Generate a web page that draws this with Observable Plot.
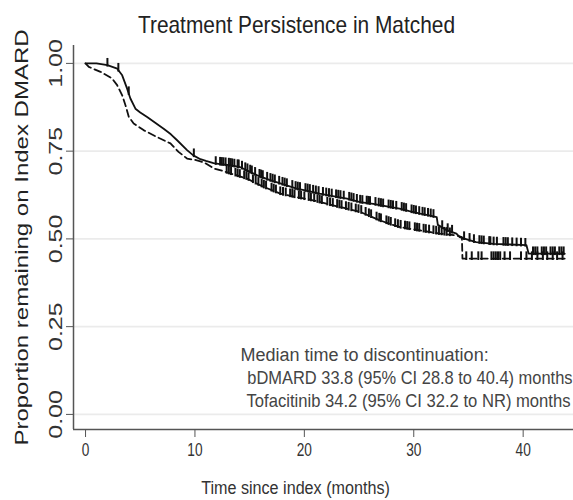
<!DOCTYPE html>
<html>
<head>
<meta charset="utf-8">
<script src="https://cdn.jsdelivr.net/npm/d3@7"></script>
<script src="https://cdn.jsdelivr.net/npm/@observablehq/plot@0.6"></script>
<style>
  html, body { margin: 0; padding: 0; background: #fff; }
  #chart { width: 573px; height: 500px; overflow: hidden; }
</style>
</head>
<body>
<div id="chart"></div>
<script>
// ---- Text ----
const titleText = "Treatment Persistence in Matched";
const xLabel = "Time since index (months)";
const yLabel = "Proportion remaining on Index DMARD";
const noteHead = "Median time to discontinuation:";
const noteLines = [
  "bDMARD 33.8 (95% CI 28.8 to 40.4) months",
  "Tofacitinib 34.2 (95% CI 32.2 to NR) months"
];

// ---- Axes ----
const xTicks = [0, 10, 20, 30, 40];
const yTicks = [0, 0.25, 0.5, 0.75, 1];
const xDomain = [-1.1, 44.6];
const yDomain = [-0.043, 1.051];

// ---- Solid curve ----
const solidT = [0, 1.0, 2.0, 2.9, 3.35, 3.8, 4.1, 4.56, 5.0, 5.63, 6.4, 7.14, 7.8, 8.37, 9.28, 9.85, 10.5, 11.0, 11.7, 12.3, 13.0, 14.1, 14.9, 15.7, 16.8, 17.8, 19.3, 20.3, 21.4, 22.6, 23.9, 25.1, 26.3, 26.9, 27.8, 28.7, 29.6, 30.6, 31.4, 32.1, 32.2, 33.0, 33.9, 34.2, 35.0, 35.7, 37.3, 38.8, 40.3, 40.5, 43.8];
const solidP = [1.0, 1.0, 0.995, 0.985, 0.966, 0.928, 0.900, 0.871, 0.860, 0.847, 0.830, 0.814, 0.798, 0.781, 0.753, 0.738, 0.727, 0.722, 0.716, 0.713, 0.711, 0.705, 0.693, 0.681, 0.668, 0.658, 0.643, 0.637, 0.629, 0.622, 0.615, 0.605, 0.600, 0.596, 0.591, 0.586, 0.579, 0.572, 0.567, 0.562, 0.540, 0.525, 0.515, 0.505, 0.497, 0.491, 0.486, 0.484, 0.482, 0.458, 0.458];
const solidCensor = [2.0, 3.0, 3.95, 9.9, 11.9, 12.3, 12.45, 12.6, 12.8, 13.1, 13.25, 13.4, 13.6, 13.9, 14.0, 14.3, 14.6, 14.8, 15.05, 15.2, 15.5, 15.9, 16.05, 16.2, 16.6, 16.9, 17.1, 17.3, 17.7, 18.0, 18.2, 18.4, 18.9, 19.2, 19.4, 19.6, 20.1, 20.3, 20.5, 20.8, 21.05, 21.3, 21.7, 22.0, 22.25, 22.5, 22.9, 23.1, 23.3, 23.6, 24.1, 24.3, 24.5, 24.8, 25.1, 25.3, 25.7, 25.85, 26.0, 26.5, 26.8, 27.0, 27.2, 27.7, 27.9, 28.1, 28.4, 28.9, 29.1, 29.3, 29.8, 30.0, 30.2, 30.5, 30.8, 31.0, 31.3, 31.55, 31.8, 32.6, 33.1, 33.5, 34.6, 35.1, 35.5, 36.0, 36.2, 36.4, 36.9, 37.0, 37.3, 37.6, 38.2, 38.4, 38.6, 39.0, 39.4, 39.8, 40.2, 40.9, 41.1, 41.3, 41.7, 41.9, 42.1, 42.5, 42.7, 42.9, 43.3, 43.5, 43.7];

// ---- Dashed curve ----
const dashT = [0, 0.3, 1.37, 2.43, 2.89, 3.35, 3.65, 3.95, 4.4, 5.3, 6.54, 7.76, 8.5, 9.28, 10.0, 10.5, 11.0, 11.7, 12.5, 13.5, 14.75, 15.5, 16.3, 17.8, 19.3, 20.8, 22.3, 23.9, 25.1, 26.0, 26.9, 27.8, 28.7, 30.6, 32.4, 33.9, 34.4, 34.45, 40.6, 43.8];
const dashP = [1.0, 0.99, 0.976, 0.957, 0.938, 0.909, 0.881, 0.848, 0.829, 0.810, 0.790, 0.772, 0.748, 0.729, 0.725, 0.721, 0.715, 0.701, 0.694, 0.684, 0.672, 0.660, 0.648, 0.629, 0.619, 0.610, 0.598, 0.586, 0.577, 0.565, 0.553, 0.543, 0.534, 0.524, 0.515, 0.510, 0.505, 0.444, 0.444, 0.444];
const dashCensor = [12.9, 13.1, 13.3, 13.7, 13.9, 14.1, 14.5, 14.7, 14.9, 15.3, 15.55, 15.8, 16.1, 16.3, 16.5, 17.0, 17.2, 17.4, 17.8, 18.05, 18.3, 18.7, 18.9, 19.1, 19.5, 19.7, 20.0, 20.4, 20.6, 20.9, 21.2, 21.4, 21.6, 22.1, 22.35, 22.6, 23.0, 23.2, 23.4, 23.8, 24.05, 24.3, 24.7, 24.95, 25.2, 25.6, 25.9, 26.1, 26.6, 26.85, 27.0, 27.5, 27.7, 27.9, 28.3, 28.55, 28.8, 29.2, 29.4, 29.6, 30.1, 30.3, 30.5, 30.9, 31.1, 31.4, 31.8, 32.05, 32.3, 32.55, 32.8, 33.0, 33.3, 34.8, 35.3, 35.9, 36.2, 37.1, 37.3, 37.5, 37.7, 37.9, 38.3, 38.8, 39.8, 40.3, 40.8, 41.3, 41.8, 42.2, 42.7, 43.1, 43.6];

// ---- Build rows ----
const rows = (ts, ps) => ts.map((t, i) => ({t, p: ps[i]}));
function valueAt(ts, ps, t) {
  const i = d3.bisectRight(ts, t);
  if (i <= 0) return ps[0];
  if (i >= ts.length) return ps[ps.length - 1];
  const t0 = ts[i - 1], t1 = ts[i];
  return t1 === t0 ? ps[i] : ps[i - 1] + (ps[i] - ps[i - 1]) * (t - t0) / (t1 - t0);
}
const censorRows = (cs, ts, ps) => cs.map(t => ({t, p: valueAt(ts, ps, t)}));

const tickSymbol = {
  draw(ctx, size) {
    const len = Math.sqrt(size / Math.PI) * 2;
    ctx.moveTo(0, len * 0.2);
    ctx.lineTo(0, -len);
  }
};

const font = "'Liberation Sans', Arial, Helvetica, sans-serif";

const plot = Plot.plot({
  width: 573,
  height: 500,
  marginLeft: 73,
  marginRight: 0,
  marginTop: 45,
  marginBottom: 71,
  x: {domain: xDomain},
  y: {domain: yDomain},
  style: {fontFamily: font, color: "#333", background: "#fff", overflow: "visible"},
  marks: [
    Plot.ruleY(yTicks, {stroke: "#ebebeb", strokeWidth: 1.6}),
    Plot.ruleY([yDomain[0]], {stroke: "#555", strokeWidth: 1.5}),
    Plot.ruleX([xDomain[0]], {stroke: "#555", strokeWidth: 1.5}),
    Plot.axisX({ticks: xTicks, tickSize: 8, tickPadding: 5, fontSize: 19, label: null, stroke: "#555", fill: "#333"}),
    Plot.axisY({ticks: yTicks, tickSize: 7, tickPadding: 5, tickRotate: -90, fontSize: 25, tickFormat: d3.format(".2f"), label: null, stroke: "#555", fill: "#333"}),
    Plot.line(rows(dashT, dashP), {x: "t", y: "p", stroke: "#111", strokeWidth: 1.8, strokeDasharray: "7,4"}),
    Plot.line(rows(solidT, solidP), {x: "t", y: "p", stroke: "#111", strokeWidth: 1.8}),
    Plot.dot(censorRows(dashCensor, dashT, dashP), {x: "t", y: "p", symbol: tickSymbol, r: 3.6, stroke: "#111", strokeWidth: 2, fill: "none"}),
    Plot.dot(censorRows(solidCensor, solidT, solidP), {x: "t", y: "p", symbol: tickSymbol, r: 3.6, stroke: "#111", strokeWidth: 2, fill: "none"}),
    Plot.text([titleText], {frameAnchor: "top", textAnchor: "middle", lineAnchor: "middle", dy: -20, dx: -27, fontSize: 24, fill: "#222"}),
    Plot.text([xLabel], {frameAnchor: "bottom", textAnchor: "middle", lineAnchor: "middle", dy: 58, dx: -28, fontSize: 19, fill: "#333"}),
    Plot.text([yLabel], {frameAnchor: "left", textAnchor: "middle", lineAnchor: "middle", dx: -51, rotate: -90, fontSize: 24, fill: "#222"}),
    Plot.text([noteHead], {frameAnchor: "bottom-left", textAnchor: "start", lineAnchor: "middle", dx: 167, dy: -74, fontSize: 18, fill: "#444"}),
    Plot.text([noteLines[0]], {frameAnchor: "bottom-right", textAnchor: "end", lineAnchor: "middle", dx: -1, dy: -51, fontSize: 17.5, fill: "#444"}),
    Plot.text([noteLines[1]], {frameAnchor: "bottom-right", textAnchor: "end", lineAnchor: "middle", dx: -3, dy: -28, fontSize: 17.5, fill: "#444"})
  ]
});

document.getElementById("chart").appendChild(plot);

// Narrow the glyphs to match the reference's condensed lettering
const squishMap = new Map();
squishMap.set(titleText, [0.87, 1]);
squishMap.set(xLabel, [0.85, 1]);
squishMap.set(noteHead, [1, 1]);
squishMap.set(noteLines[0], [0.94, 1]);
squishMap.set(noteLines[1], [0.95, 1]);
xTicks.forEach(v => squishMap.set(String(v), [0.72, 1]));
yTicks.forEach(v => squishMap.set(d3.format(".2f")(v), [1, 0.7]));
squishMap.set(yLabel, [1, 0.74]);

d3.select(plot).selectAll("text").each(function() {
  const s = squishMap.get(this.textContent);
  if (!s) return;
  const tr = this.getAttribute("transform") || "";
  this.setAttribute("transform", `${tr} scale(${s[0]},${s[1]})`);
});
</script>
</body>
</html>
